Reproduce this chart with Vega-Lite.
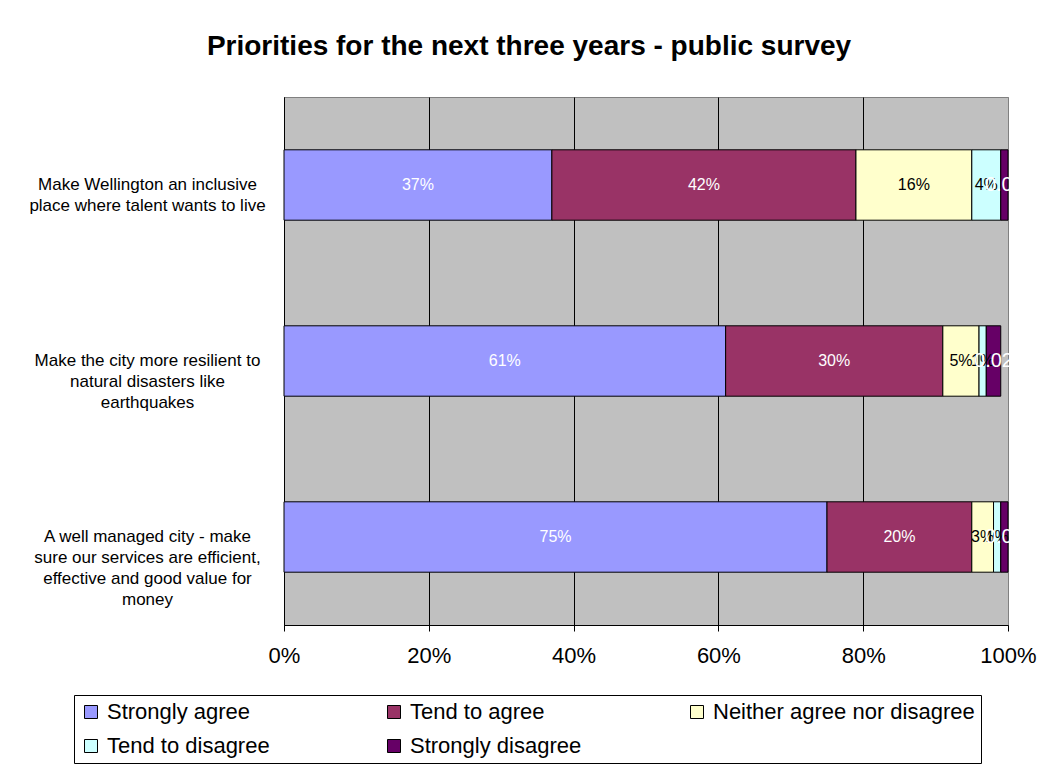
{
  "$schema": "https://vega.github.io/schema/vega-lite/v6.json",
  "width": 724,
  "height": 528,
  "autosize": {"type": "none"},
  "padding": {"left": 284, "top": 97, "right": 34, "bottom": 142},
  "background": "white",
  "title": {
    "text": "Priorities for the next three years - public survey",
    "fontSize": 28,
    "font": "Liberation Sans",
    "fontWeight": "bold",
    "color": "black",
    "anchor": "middle",
    "dx": -117,
    "offset": 36
  },
  "data": {
    "values": [
      {"priority": "Make Wellington an inclusive|place where talent wants to live", "category": "Strongly agree", "rank": 1, "value": 37, "label": "37%"},
      {"priority": "Make Wellington an inclusive|place where talent wants to live", "category": "Tend to agree", "rank": 2, "value": 42, "label": "42%"},
      {"priority": "Make Wellington an inclusive|place where talent wants to live", "category": "Neither agree nor disagree", "rank": 3, "value": 16, "label": "16%"},
      {"priority": "Make Wellington an inclusive|place where talent wants to live", "category": "Tend to disagree", "rank": 4, "value": 4, "label": "4%"},
      {"priority": "Make Wellington an inclusive|place where talent wants to live", "category": "Strongly disagree", "rank": 5, "value": 1, "label": "0.01"},
      {"priority": "Make the city more resilient to|natural disasters like|earthquakes", "category": "Strongly agree", "rank": 1, "value": 61, "label": "61%"},
      {"priority": "Make the city more resilient to|natural disasters like|earthquakes", "category": "Tend to agree", "rank": 2, "value": 30, "label": "30%"},
      {"priority": "Make the city more resilient to|natural disasters like|earthquakes", "category": "Neither agree nor disagree", "rank": 3, "value": 5, "label": "5%"},
      {"priority": "Make the city more resilient to|natural disasters like|earthquakes", "category": "Tend to disagree", "rank": 4, "value": 1, "label": "1%"},
      {"priority": "Make the city more resilient to|natural disasters like|earthquakes", "category": "Strongly disagree", "rank": 5, "value": 2, "label": "0.02"},
      {"priority": "A well managed city - make|sure our services are efficient,|effective and good value for|money", "category": "Strongly agree", "rank": 1, "value": 75, "label": "75%"},
      {"priority": "A well managed city - make|sure our services are efficient,|effective and good value for|money", "category": "Tend to agree", "rank": 2, "value": 20, "label": "20%"},
      {"priority": "A well managed city - make|sure our services are efficient,|effective and good value for|money", "category": "Neither agree nor disagree", "rank": 3, "value": 3, "label": "3%"},
      {"priority": "A well managed city - make|sure our services are efficient,|effective and good value for|money", "category": "Tend to disagree", "rank": 4, "value": 1, "label": "1%"},
      {"priority": "A well managed city - make|sure our services are efficient,|effective and good value for|money", "category": "Strongly disagree", "rank": 5, "value": 1, "label": "0.01"}
    ]
  },
  "transform": [
    {"stack": "value", "groupby": ["priority"], "sort": [{"field": "rank", "order": "ascending"}], "as": ["v0", "v1"]},
    {"calculate": "(datum.v0 + datum.v1) / 2", "as": "mid"}
  ],
  "layer": [
    {
      "mark": {"type": "bar", "stroke": "black", "strokeWidth": 1},
      "encoding": {
        "y": {
          "field": "priority",
          "type": "nominal",
          "sort": [
            "Make Wellington an inclusive|place where talent wants to live",
            "Make the city more resilient to|natural disasters like|earthquakes",
            "A well managed city - make|sure our services are efficient,|effective and good value for|money"
          ],
          "scale": {"paddingInner": 0.6, "paddingOuter": 0.3},
          "axis": {
            "title": null,
            "labelExpr": "split(datum.label, '|')",
            "ticks": false,
            "tickSize": 0,
            "domainColor": "black",
            "labelFont": "Liberation Sans",
            "labelFontSize": 17,
            "labelLineHeight": 21,
            "labelColor": "black",
            "labelAlign": "center",
            "labelBaseline": "middle",
            "labelPadding": 137,
            "labelLimit": 400,
            "grid": false
          }
        },
        "x": {
          "field": "v0",
          "type": "quantitative",
          "scale": {"domain": [0, 100], "nice": false},
          "axis": {
            "title": null,
            "values": [0, 20, 40, 60, 80, 100],
            "labelExpr": "datum.value + '%'",
            "labelFont": "Liberation Sans",
            "labelFontSize": 22,
            "labelColor": "black",
            "labelPadding": 14,
            "labelFlush": false,
            "labelOverlap": false,
            "tickSize": 6,
            "tickColor": "black",
            "domainColor": "black",
            "grid": true,
            "gridColor": {"condition": {"test": "datum.value == 100", "value": "#808080"}, "value": "black"},
            "gridOpacity": 1
          }
        },
        "x2": {"field": "v1"},
        "color": {
          "field": "category",
          "type": "nominal",
          "scale": {
            "domain": ["Strongly agree", "Tend to agree", "Neither agree nor disagree", "Tend to disagree", "Strongly disagree"],
            "range": ["#9999FF", "#993366", "#FFFFCC", "#CCFFFF", "#660066"]
          },
          "legend": {
            "title": null,
            "orient": "none",
            "legendX": -210,
            "legendY": 598,
            "direction": "horizontal",
            "columns": 3,
            "gridAlign": "all",
            "symbolType": "square",
            "symbolSize": 169,
            "symbolStrokeColor": "black",
            "symbolStrokeWidth": 1,
            "labelFont": "Liberation Sans",
            "labelFontSize": 22,
            "labelColor": "black",
            "labelLimit": 400,
            "labelOffset": 5,
            "strokeColor": "black",
            "fillColor": "white",
            "padding": 6,
            "rowPadding": 12,
            "columnPadding": 14
          }
        }
      }
    },
    {
      "mark": {"type": "text", "font": "Liberation Sans", "align": "center", "baseline": "middle"},
      "encoding": {
        "y": {
          "field": "priority",
          "type": "nominal",
          "sort": [
            "Make Wellington an inclusive|place where talent wants to live",
            "Make the city more resilient to|natural disasters like|earthquakes",
            "A well managed city - make|sure our services are efficient,|effective and good value for|money"
          ]
        },
        "x": {"field": "mid", "type": "quantitative"},
        "text": {"field": "label"},
        "color": {
          "condition": {"test": "datum.category == 'Neither agree nor disagree' || datum.category == 'Tend to disagree'", "value": "black"},
          "value": "white"
        },
        "size": {
          "condition": {"test": "datum.category == 'Strongly disagree'", "value": 20},
          "value": 16
        }
      }
    }
  ],
  "config": {
    "font": "Liberation Sans",
    "view": {"fill": "#C0C0C0", "stroke": "#808080", "strokeWidth": 1}
  }
}
